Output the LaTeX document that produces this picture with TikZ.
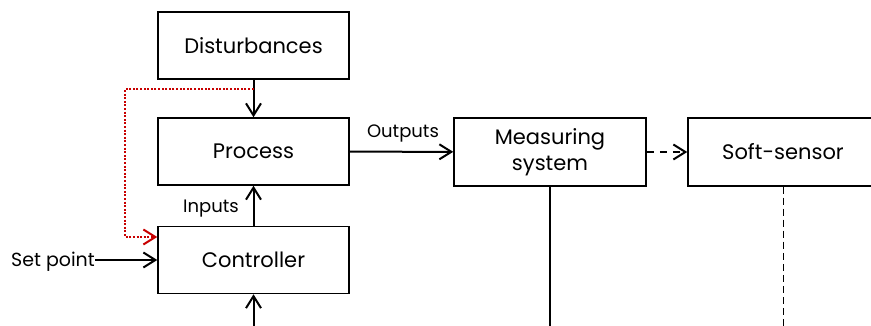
\documentclass[tikz,border=0pt]{standalone}
\usepackage{fontspec}
\setmainfont{Poppins}
\usetikzlibrary{arrows.meta}
\definecolor{fbred}{RGB}{200,0,0}
\tikzset{
  block/.style={draw, line width=1.5pt, minimum width=191pt, minimum height=67pt,
    inner sep=2pt, align=center, font=\fontsize{21}{26}\selectfont},
  lbl/.style={inner sep=0pt, font=\fontsize{18}{22}\selectfont},
  tip/.style={-{Straight Barb[length=12pt,width=15pt,line width=2pt]}},
  flow/.style={line width=2pt, tip},
  wire/.style={line width=2pt},
  feed/.style={line width=2pt, color=fbred, dash pattern=on 2pt off 1.6pt,
    -{Straight Barb[length=12pt,width=15pt,line width=2pt,color=fbred]}},
}
\begin{document}
\begin{tikzpicture}[x=1pt,y=-1pt]
\useasboundingbox (0,0) rectangle (871,326);
\clip (0,0) rectangle (871,326);

% blocks
\node[block] (dist) at (253.5,45.5) {Disturbances};
\node[block] (proc) at (253.5,151.5) {Process};
\node[block] (ctrl) at (253.5,260) {Controller};
\node[block, minimum width=192pt, minimum height=68pt] (meas) at (550,152) {Measuring\\system};
\node[block, minimum width=190pt, minimum height=68pt] (soft) at (783,152) {Soft-sensor};

% labels
\node[lbl, anchor=base east, font=\fontsize{19}{23}\selectfont] (sp) at (95,266) {Set point};
\node[lbl, anchor=base east] (inp) at (239,213) {Inputs};
\node[lbl, anchor=base] (outp) at (403,138) {Outputs};

% free ends at the lower border
\coordinate (ctrlin) at (253.5,330);
\coordinate (measout) at (550,330);
\coordinate (softout) at (783,330);
\coordinate (tap) at (253.5,89);
\coordinate (bend) at (125,89);

% connectors
\draw[flow] (dist) -- (proc);
\draw[flow] (ctrl) -- (proc);
\draw[flow] (ctrlin) -- (ctrl);
\draw[flow] (sp.east |- ctrl.west) -- (ctrl.west);
\draw[flow] (proc) -- (meas);
\draw[flow, dash pattern=on 7pt off 6pt] (meas) -- (soft);
\draw[wire] (meas) -- (measout);
\draw[line width=1pt, dash pattern=on 7pt off 4pt] (soft) -- (softout);
\draw[feed] (tap) -- (bend) |- ([yshift=23pt]ctrl.west);
\end{tikzpicture}
\end{document}
